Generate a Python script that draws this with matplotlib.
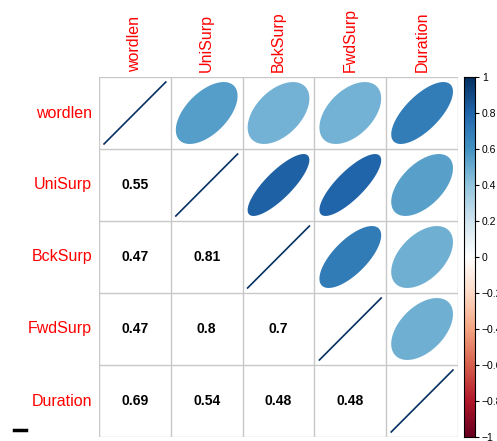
import numpy as np
import matplotlib
matplotlib.use("Agg")
import matplotlib.pyplot as plt
from matplotlib.colors import LinearSegmentedColormap
from matplotlib.patches import Polygon
from matplotlib.lines import Line2D

plt.rcParams['font.family'] = ['Liberation Sans', 'DejaVu Sans']

variables = ["wordlen", "UniSurp", "BckSurp", "FwdSurp", "Duration"]
row_wordlen = [1.00, 0.55, 0.47, 0.47, 0.69]
row_unisurp = [0.55, 1.00, 0.81, 0.80, 0.54]
row_bcksurp = [0.47, 0.81, 1.00, 0.70, 0.48]
row_fwdsurp = [0.47, 0.80, 0.70, 1.00, 0.48]
row_duration = [0.69, 0.54, 0.48, 0.48, 1.00]
corr = np.array([row_wordlen, row_unisurp, row_bcksurp, row_fwdsurp, row_duration])
cbar_ticks = [1, 0.8, 0.6, 0.4, 0.2, 0, -0.2, -0.4, -0.6, -0.8, -1]

palette = ["#67001F", "#B2182B", "#D6604D", "#F4A582", "#FDDBC7", "#FFFFFF",
           "#D1E5F0", "#92C5DE", "#4393C3", "#2166AC", "#053061"]
cmap = LinearSegmentedColormap.from_list("rdbu", palette, N=200)

W, H = 497, 441
fig = plt.figure(figsize=(W / 100, H / 100), dpi=100)


def fx(px):
    return px / W


def fy(py):
    return 1 - py / H


# grid region
gl, gr, gt, gb = 99, 458, 77, 437
ax = fig.add_axes([fx(gl), fy(gb), fx(gr - gl), (gb - gt) / H])
n = len(variables)
ax.set_xlim(0.5, n + 0.5)
ax.set_ylim(n + 0.5, 0.5)
ax.axis("off")

for k in range(n + 1):
    ax.plot([0.5, n + 0.5], [k + 0.5, k + 0.5], color="#C8C8C8", lw=1.0, zorder=1)
    ax.plot([k + 0.5, k + 0.5], [0.5, n + 0.5], color="#C8C8C8", lw=1.0, zorder=1)

scale = 0.43
t = np.linspace(0, 2 * np.pi, 200)
for i in range(n):
    for j in range(n):
        r = corr[i, j]
        cx, cy = j + 1, i + 1
        if i == j:
            col = cmap((r + 1) / 2)
            ax.add_line(Line2D([cx - scale, cx + scale], [cy + scale, cy - scale],
                               color=col, lw=1.2, zorder=3))
        elif j > i:
            d = np.arccos(r)
            ex = np.cos(t + d / 2) * scale
            ey = np.cos(t - d / 2) * scale
            pts = np.column_stack([cx + ex, cy - ey])
            ax.add_patch(Polygon(pts, closed=True, facecolor=cmap((r + 1) / 2),
                                 edgecolor="none", zorder=2))
        else:
            ax.text(cx, cy, f"{r:g}", ha="center", va="center",
                    fontsize=10, fontweight="bold", color="black", zorder=3)

cell_w = (gr - gl) / n
cell_h = (gb - gt) / n
for k, name in enumerate(variables):
    fig.text(fx(gl + cell_w * (k + 0.5)), fy(gt - 5), name, rotation=90,
             ha="center", va="bottom", color="red", fontsize=11.5)
    fig.text(fx(gl - 7), fy(gt + cell_h * (k + 0.5)), name,
             ha="right", va="center", color="red", fontsize=11.5)

# color legend
cax = fig.add_axes([fx(464), fy(gb), fx(11), (gb - gt) / H])
grad = np.linspace(1, -1, 400).reshape(-1, 1)
cax.imshow(grad, aspect="auto", cmap=cmap, vmin=-1, vmax=1,
           extent=[0, 1, -1, 1])
cax.set_xlim(0, 1)
cax.set_ylim(-1, 1)
cax.set_xticks([])
cax.yaxis.tick_right()
cax.set_yticks(cbar_ticks)
cax.set_yticklabels([f"{v:g}".replace("-", "\u2212") for v in cbar_ticks], fontsize=7.5)
cax.tick_params(axis="y", length=3, width=0.8, pad=2)
for s in cax.spines.values():
    s.set_linewidth(0.8)

# short dash in the lower-left corner
fig.add_artist(Line2D([fx(14), fx(26)], [fy(430), fy(430)], color="black", lw=2.5))

fig.savefig("out.png", dpi=100)
